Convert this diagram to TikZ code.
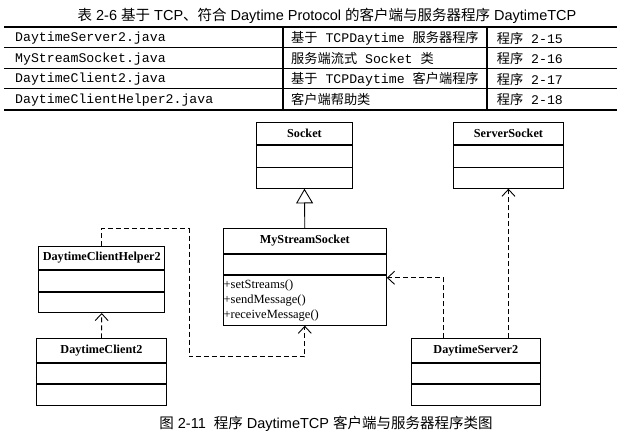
\documentclass[tikz,border=0pt]{standalone}
\usepackage{fontspec}
\setmainfont{Liberation Serif}
\setsansfont{Liberation Sans}
\setmonofont{Liberation Mono}
\newfontfamily\cjk{Noto Sans CJK SC}
\newcommand\zhtxt[1]{{\cjk #1}}
\usetikzlibrary{arrows.meta}
\tikzset{
  cls/.style={draw, line width=0.9pt, inner sep=0pt, anchor=north,
    font=\bfseries\fontsize{12.2}{14}\selectfont},
  dep/.style={line width=0.9pt, dash pattern=on 5pt off 3pt,
    -{Straight Barb[length=7pt,width=13pt,line width=0.9pt]}},
  gen/.style={line width=0.9pt,
    -{Triangle[open,length=14.7pt,width=17pt,line width=0.9pt,fill=white]}},
  cell/.style={anchor=west, inner sep=0pt, font=\ttfamily\fontsize{13.2}{15}\selectfont},
  heavyrule/.style={line width=2.2pt},
  lightrule/.style={line width=1.2pt},
  colrule/.style={line width=1.6pt},
  captext/.style={inner sep=0pt, font=\sffamily\fontsize{14.5}{16}\selectfont},
}
\begin{document}
\begin{tikzpicture}[x=1pt,y=-1pt]
\useasboundingbox (0,0) rectangle (630,438);

% ---- table title
\node[captext] (title) at (327,15.5) {\zhtxt{表} 2-6 \zhtxt{基于} TCP\zhtxt{、符合} Daytime Protocol \zhtxt{的客户端与服务器程序} DaytimeTCP};

% ---- table rules
\draw[heavyrule] (4,26.7) -- (617,26.7);
\draw[lightrule] (4,47.7) -- (617,47.7);
\draw[lightrule] (4,68.3) -- (617,68.3);
\draw[lightrule] (4,88.3) -- (617,88.3);
\draw[heavyrule] (4,110) -- (617,110);
\draw[colrule] (282.7,26.7) -- (282.7,110);
\draw[colrule] (486.7,26.7) -- (486.7,110);

% ---- table cells
\node[cell] (r1a) at (15,38) {DaytimeServer2.java};
\node[cell] (r2a) at (15,58.8) {MyStreamSocket.java};
\node[cell] (r3a) at (15,79) {DaytimeClient2.java};
\node[cell] (r4a) at (15,99.8) {DaytimeClientHelper2.java};

\node[cell] (r1b) at (291,38) {\zhtxt{基于} TCPDaytime \zhtxt{服务器程序}};
\node[cell] (r2b) at (291,58.8) {\zhtxt{服务端流式} Socket \zhtxt{类}};
\node[cell] (r3b) at (291,79) {\zhtxt{基于} TCPDaytime \zhtxt{客户端程序}};
\node[cell] (r4b) at (291,99.8) {\zhtxt{客户端帮助类}};

\node[cell] (r1c) at (496.7,38) {\zhtxt{程序} 2-15};
\node[cell] (r2c) at (496.7,58.8) {\zhtxt{程序} 2-16};
\node[cell] (r3c) at (496.7,79) {\zhtxt{程序} 2-17};
\node[cell] (r4c) at (496.7,99.8) {\zhtxt{程序} 2-18};

% ---- Socket
\node[cls, anchor=north west, minimum width=96pt, minimum height=22.6pt] (sock) at (256,121.7) {Socket};
\node[cls, minimum width=96pt, minimum height=21.4pt] (sock2) at (sock.south) {};
\node[cls, minimum width=96pt, minimum height=20.3pt] (sock3) at (sock2.south) {};

% ---- ServerSocket
\node[cls, anchor=north west, minimum width=109.4pt, minimum height=22.6pt] (ss) at (453.3,121.7) {ServerSocket};
\node[cls, minimum width=109.4pt, minimum height=21.4pt] (ss2) at (ss.south) {};
\node[cls, minimum width=109.4pt, minimum height=20.3pt] (ss3) at (ss2.south) {};

% ---- MyStreamSocket
\node[cls, anchor=north west, minimum width=163.3pt, minimum height=25pt] (mss) at (222.7,228) {MyStreamSocket};
\node[cls, minimum width=163.3pt, minimum height=20pt] (mss2) at (mss.south) {};
\node[cls, minimum width=163.3pt, minimum height=50pt, text width=162.3pt, inner xsep=0.5pt,
  align=left, font=\fontsize{12.5}{15}\selectfont] (mss3) at (mss2.south)
  {+setStreams()\\+sendMessage()\\+receiveMessage()};

% ---- DaytimeClientHelper2
\node[cls, anchor=north west, minimum width=126pt, minimum height=23.6pt] (dch) at (38.3,245.7) {DaytimeClientHelper2};
\node[cls, minimum width=126pt, minimum height=21pt] (dch2) at (dch.south) {};
\node[cls, minimum width=126pt, minimum height=20pt] (dch3) at (dch2.south) {};

% ---- DaytimeClient2
\node[cls, anchor=north west, minimum width=130.6pt, minimum height=23.4pt] (dc) at (35.7,338.3) {DaytimeClient2};
\node[cls, minimum width=130.6pt, minimum height=20.6pt] (dc2) at (dc.south) {};
\node[cls, minimum width=130.6pt, minimum height=20.7pt] (dc3) at (dc2.south) {};

% ---- DaytimeServer2
\node[cls, anchor=north west, minimum width=129.3pt, minimum height=23.4pt] (ds) at (410.7,338.3) {DaytimeServer2};
\node[cls, minimum width=129.3pt, minimum height=20.6pt] (ds2) at (ds.south) {};
\node[cls, minimum width=129.3pt, minimum height=20.7pt] (ds3) at (ds2.south) {};

% ---- connectors
\draw[gen] (mss.north) -- (sock3.south);
\draw[dep] (dc.north) -- (dch3.south);
\draw[dep] (ss3.south |- ds.north) -- (ss3.south);
\draw[dep] ([xshift=32.6pt]ds.north west) |- ([yshift=-3pt]mss3.north east);
\draw[dep] (dch.north) -- ++(0,-17.4) -| (189,356.7) -| (mss3.south);

% ---- caption
\node[captext] (cap) at (326,424) {\zhtxt{图} 2-11\ \ \zhtxt{程序} DaytimeTCP \zhtxt{客户端与服务器程序类图}};
\end{tikzpicture}
\end{document}
